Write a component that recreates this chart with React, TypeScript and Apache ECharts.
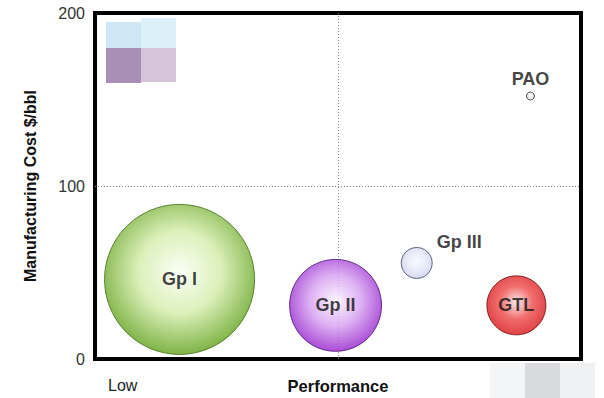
import React, { useEffect, useRef } from "react";
import * as echarts from "echarts";

const names = ["Gp I", "Gp II", "Gp III", "GTL", "PAO"];
const perfValues = [17.4, 49.5, 66.2, 86.7, 89.6];
const costValues = [46, 31, 55.5, 31, 152];
const bubbleSizes = [150, 92, 31, 59, 8];
const yTicks = [0, 100, 200];

const fills = [
  ["#fbfff5", "#d2eca8", "#5fa018"],
  ["#fbf2ff", "#d59ef0", "#9420cc"],
  ["#f6f7ff", "#e6e8f8", "#cdd1f0"],
  ["#fde6e6", "#ee4a4a", "#d81418"],
  ["#ffffff", "#e8e8e8", "#c8c8c8"],
];
const borders = ["#3d6a12", "#4a1070", "#3d4260", "#6a0a0a", "#333333"];
const FONT = "'Liberation Sans', Arial, sans-serif";

export default function App() {
  const ref = useRef<HTMLDivElement>(null);
  useEffect(() => {
    if (!ref.current) return;
    const chart = echarts.init(ref.current, undefined, { renderer: "svg" });
    const data = names.map((n, i) => {
      const c = fills[i];
      const labelCfg: any =
        i === 2
          ? { show: true, position: [36, -14], align: "left", verticalAlign: "top" }
          : i === 4
          ? { show: true, position: "top", distance: 4 }
          : { show: true, position: "inside" };
      return {
        name: n,
        value: [perfValues[i], costValues[i], bubbleSizes[i]],
        itemStyle: {
          color: new echarts.graphic.RadialGradient(0.5, 0.45, 0.55, [
            { offset: 0, color: c[0] },
            { offset: 0.5, color: c[1] },
            { offset: 1, color: c[2] },
          ]),
          borderColor: borders[i],
          borderWidth: 1,
        },
        label: {
          ...labelCfg,
          formatter: n,
          color: "#111",
          textBorderWidth: 0,
          fontFamily: FONT,
          fontWeight: "bold",
          fontSize: 18,
        },
      };
    });
    const dotted = {
      show: true,
      lineStyle: { color: ["transparent", "#888", "transparent"], type: [1, 2], width: 1 },
    };
    chart.setOption({
      animation: false,
      backgroundColor: "#ffffff",
      grid: {
        left: 95,
        right: 23,
        top: 13,
        bottom: 39,
        show: true,
        borderColor: "#000",
        borderWidth: 4,
        backgroundColor: "transparent",
        containLabel: false,
        outerBoundsMode: "none",
      },
      xAxis: {
        type: "value",
        min: 0,
        max: 100,
        interval: 50,
        axisLine: { show: false },
        axisTick: { show: false },
        axisLabel: { show: false },
        splitLine: dotted,
        name: "Performance",
        nameLocation: "middle",
        nameGap: 18,
        nameTextStyle: {
          fontFamily: FONT,
          fontWeight: "bold",
          fontSize: 16.5,
          color: "#111",
        },
      },
      yAxis: {
        type: "value",
        min: yTicks[0],
        max: yTicks[yTicks.length - 1],
        interval: 100,
        axisLine: { show: false },
        axisTick: { show: false },
        axisLabel: {
          margin: 10,
          fontFamily: FONT,
          fontSize: 16,
          color: "#333",
        },
        splitLine: dotted,
        name: "Manufacturing Cost $/bbl",
        nameLocation: "middle",
        nameGap: 57,
        nameTextStyle: {
          fontFamily: FONT,
          fontWeight: "bold",
          fontSize: 16,
          color: "#111",
        },
      },
      graphic: [
        { type: "rect", shape: { x: 106, y: 22, width: 35, height: 26 }, style: { fill: "#cfe6f4" } },
        { type: "rect", shape: { x: 141, y: 18, width: 35, height: 30 }, style: { fill: "#dcf0fa" } },
        { type: "rect", shape: { x: 106, y: 48, width: 35, height: 35 }, style: { fill: "#a88fb6" } },
        { type: "rect", shape: { x: 141, y: 48, width: 35, height: 34 }, style: { fill: "#d6c5da" } },
        { type: "rect", shape: { x: 490, y: 363, width: 35, height: 35 }, style: { fill: "#f4f5f7" } },
        { type: "rect", shape: { x: 525, y: 363, width: 35, height: 35 }, style: { fill: "#d9dadd" } },
        { type: "rect", shape: { x: 560, y: 363, width: 35, height: 35 }, style: { fill: "#f0f1f3" } },
        {
          type: "text",
          x: 108,
          y: 385,
          style: {
            text: "Low",
            fill: "#222",
            font: "16px 'Liberation Sans', Arial, sans-serif",
            verticalAlign: "middle",
          },
        },
      ],
      series: [
        {
          type: "scatter",
          data,
          symbol: "circle",
          symbolSize: (v: number[]) => v[2],
        },
      ],
    });
    return () => chart.dispose();
  }, []);
  return <div ref={ref} style={{ width: 604, height: 398, position: "absolute", left: 0, top: 0 }} />;
}
